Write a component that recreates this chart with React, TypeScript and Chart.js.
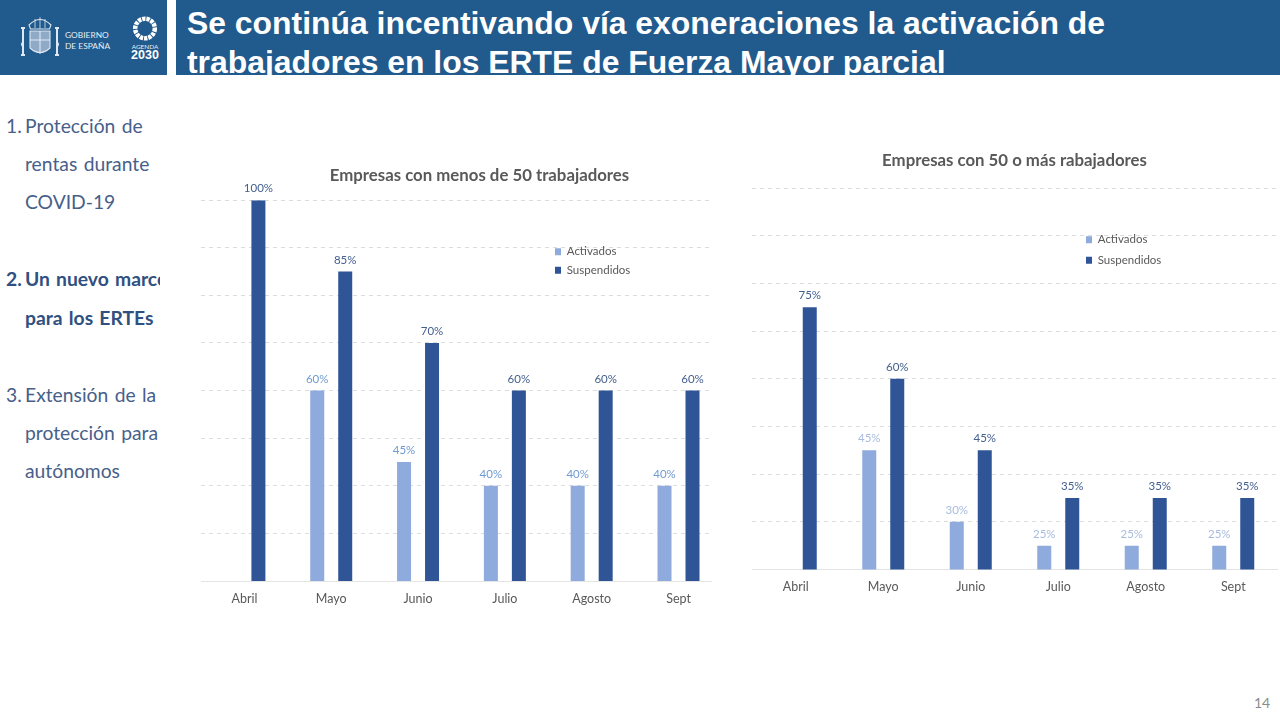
import React, { useEffect, useRef } from "react";
import { Chart, registerables } from "chart.js";

Chart.register(...registerables);

const categories = ["Abril", "Mayo", "Junio", "Julio", "Agosto", "Sept"];
const activadosMenos50 = [null, 60, 45, 40, 40, 40];
const suspendidosMenos50 = [100, 85, 70, 60, 60, 60];
const activadosMas50 = [null, 45, 30, 25, 25, 25];
const suspendidosMas50 = [75, 60, 45, 35, 35, 35];

const COLOR_LIGHT = "#8faadc";
const COLOR_DARK = "#2f5597";
const FONT = "Lato";

const headerLines = [
  "Se continúa incentivando vía exoneraciones la activación de",
  "trabajadores en los ERTE de Fuerza Mayor parcial",
];

const sideLines = [
  { num: "1.", text: "Protección de", y: 126, bold: false },
  { num: "", text: "rentas durante", y: 164, bold: false },
  { num: "", text: "COVID-19", y: 202, bold: false },
  { num: "2.", text: "Un nuevo marco", y: 279, bold: true },
  { num: "", text: "para los ERTEs", y: 318, bold: true },
  { num: "3.", text: "Extensión de la", y: 395, bold: false },
  { num: "", text: "protección para", y: 433, bold: false },
  { num: "", text: "autónomos", y: 471, bold: false },
];

function makeChart(canvas: HTMLCanvasElement, cfg: any) {
  const dataLabels = {
    id: "dataLabels",
    afterDatasetsDraw(chart: any) {
      const ctx = chart.ctx;
      ctx.save();
      ctx.font = `11.5px ${FONT}`;
      ctx.textAlign = "center";
      ctx.textBaseline = "alphabetic";
      chart.data.datasets.forEach((ds: any, di: number) => {
        const meta = chart.getDatasetMeta(di);
        ds.data.forEach((d: any, i: number) => {
          if (d.y === null) return;
          const el = meta.data[i];
          ctx.fillStyle = ds.labelColor;
          ctx.fillText(`${d.y}%`, el.x, el.y - 8);
        });
      });
      ctx.restore();
    },
  };
  const placeBlocks = {
    id: "placeBlocks",
    afterLayout(chart: any) {
      const lg = chart.legend;
      const w = lg.width;
      const h = lg.height;
      lg.left = cfg.legendX;
      lg.top = cfg.legendY;
      lg.right = cfg.legendX + w;
      lg.bottom = cfg.legendY + h;
      const t = chart.titleBlock;
      t.left = 0;
      t.right = cfg.titleCenter * 2;
    },
  };
  return new Chart(canvas, {
    type: "bar",
    data: {
      datasets: [
        {
          label: "Activados",
          data: cfg.activados.map((y: any, x: number) => ({ x, y })),
          backgroundColor: COLOR_LIGHT,
          labelColor: cfg.lightLabel,
        },
        {
          label: "Suspendidos",
          data: cfg.suspendidos.map((y: any, x: number) => ({ x, y })),
          backgroundColor: COLOR_DARK,
          labelColor: "#44608f",
        },
      ] as any,
    },
    plugins: [dataLabels, placeBlocks],
    options: {
      responsive: false,
      animation: false,
      devicePixelRatio: 1,
      categoryPercentage: cfg.catPct,
      barPercentage: 0.5,
      layout: { padding: cfg.padding },
      plugins: {
        tooltip: { enabled: false },
        title: {
          display: true,
          text: cfg.title,
          color: "#595959",
          font: { family: FONT, size: 16.8, weight: "bold" },
          padding: { top: cfg.titleTop, bottom: cfg.titleBottom },
        },
        legend: {
          position: "chartArea",
          align: "start",
          labels: {
            boxWidth: 6,
            boxHeight: 7,
            padding: cfg.legendGap,
            color: "#595959",
            font: { family: FONT, size: 11.5 },
          },
        },
      },
      scales: {
        x: {
          type: "linear",
          offset: false,
          min: -0.5,
          max: cfg.xMax,
          grid: { display: false, offset: false },
          border: { display: true, color: "#e4e4e4", width: 1 },
          afterBuildTicks(axis: any) {
            axis.ticks = categories.map((_, value) => ({ value }));
          },
          ticks: {
            autoSkip: false,
            maxRotation: 0,
            padding: 2,
            color: "#595959",
            font: { family: FONT, size: 12.5 },
            callback: (v: any) => categories[v],
          },
        },
        y: {
          type: "linear",
          min: 20,
          max: 100,
          border: { display: false, dash: [4, 4] },
          grid: { color: "#dcdcdc", drawTicks: false, lineWidth: 1 },
          ticks: { display: false, stepSize: 10 },
        },
      },
    } as any,
  });
}

function ChartBox(props: any) {
  const ref = useRef<HTMLCanvasElement | null>(null);
  useEffect(() => {
    const c = makeChart(ref.current!, props.cfg);
    return () => c.destroy();
  }, []);
  const { left, top, width, height } = props.box;
  return (
    <canvas
      ref={ref}
      width={width}
      height={height}
      style={{ position: "absolute", left, top, width, height, display: "block" }}
    />
  );
}

const leftCfg = {
  title: "Empresas con menos de 50 trabajadores",
  activados: activadosMenos50,
  suspendidos: suspendidosMenos50,
  lightLabel: "#6f9bd1",
  xMax: 5.38,
  catPct: 0.645,
  padding: { left: 11, right: 56.5, top: 0, bottom: 12 },
  titleCenter: 479.5 - 190,
  titleTop: 16,
  titleBottom: 14,
  legendX: 555 - 190 - 7,
  legendY: 246 - 150 - 7,
  legendGap: 7,
};

const rightCfg = {
  title: "Empresas con 50 o más rabajadores",
  activados: activadosMas50,
  suspendidos: suspendidosMas50,
  lightLabel: "#a9bbde",
  xMax: 5.5,
  catPct: 0.64,
  padding: { left: 2, right: 3, top: 0, bottom: 13.5 },
  titleCenter: 1014.5 - 750,
  titleTop: 11,
  titleBottom: 17,
  legendX: 1086 - 750 - 9,
  legendY: 234 - 140 - 9,
  legendGap: 9,
};

function Logo() {
  return (
    <svg width="167" height="75" style={{ position: "absolute", left: 0, top: 0 }}>
      <g fill="none" stroke="#dfe8f2" strokeWidth="1.1">
        <path d="M29 25 q11 -11 22 0 l-1.5 4 h-19 z" />
        <path d="M35 19 v9 M40 17 v12 M45 19 v9" strokeWidth="0.8" />
        <path d="M30 31 h20 v17 q-10 9 -20 0 z" fill="#8eaac6" />
        <path d="M40 31 v23 M30 40 h20" />
        <path d="M23 29 v25 M57 29 v25 M21 28 h4 M55 28 h4 M21 55 h4 M55 55 h4" strokeWidth="2" />
        <path d="M23 42 q-3 2 0 5 M57 42 q3 2 0 5" />
      </g>
      <circle cx="145" cy="28.5" r="9.8" fill="none" stroke="#ffffff" strokeWidth="4.5" strokeDasharray="3.4 0.9" />
      <text x="65" y="38" fill="#e8eef5" fontFamily={FONT} fontSize="8.4">GOBIERNO</text>
      <text x="65" y="49" fill="#e8eef5" fontFamily={FONT} fontSize="8.4">DE ESPAÑA</text>
      <text x="145" y="48.5" fill="#e8eef5" fontFamily={FONT} fontSize="6.4" textAnchor="middle">AGENDA</text>
      <text x="145" y="58.5" fill="#ffffff" fontFamily="Liberation Sans" fontWeight="bold" fontSize="12.5" textAnchor="middle">2030</text>
    </svg>
  );
}

export default function App() {
  return (
    <div style={{ position: "fixed", left: 0, top: 0, width: 1280, height: 720, overflow: "hidden", background: "#fff" }}>
      <div style={{ position: "absolute", left: 0, top: 0, width: 167, height: 75, background: "#215a8c" }}>
        <Logo />
      </div>
      <div style={{ position: "absolute", left: 176, top: 0, width: 1104, height: 75, background: "#215a8c", overflow: "hidden" }}>
        {headerLines.map((t, i) => (
          <div
            key={t}
            style={{
              position: "absolute",
              left: 11,
              top: 4 + i * 39,
              whiteSpace: "nowrap",
              color: "#fff",
              fontFamily: "Liberation Sans",
              fontWeight: "bold",
              fontSize: 31.9,
              lineHeight: "39px",
            }}
          >
            {t}
          </div>
        ))}
      </div>
      <div style={{ position: "absolute", left: 0, top: 100, width: 160, height: 400, overflow: "hidden" }}>
        {sideLines.map((l) => (
          <div
            key={l.text}
            style={{
              position: "absolute",
              top: l.y - 100 - 15,
              left: 0,
              height: 30,
              lineHeight: "30px",
              whiteSpace: "nowrap",
              fontFamily: FONT,
              fontSize: 19.3,
              fontWeight: l.bold ? 700 : 400,
              color: l.bold ? "#2f5080" : "#47608a",
              wordSpacing: 1.5,
            }}
          >
            <span style={{ position: "absolute", left: 6 }}>{l.num}</span>
            <span style={{ position: "absolute", left: 25 }}>{l.text}</span>
          </div>
        ))}
      </div>
      <ChartBox cfg={leftCfg} box={{ left: 190, top: 150, width: 578, height: 470 }} />
      <ChartBox cfg={rightCfg} box={{ left: 750, top: 140, width: 530, height: 470 }} />
      <div style={{ position: "absolute", left: 1254, top: 694, fontFamily: FONT, fontSize: 14, color: "#8c8c8c" }}>14</div>
    </div>
  );
}
